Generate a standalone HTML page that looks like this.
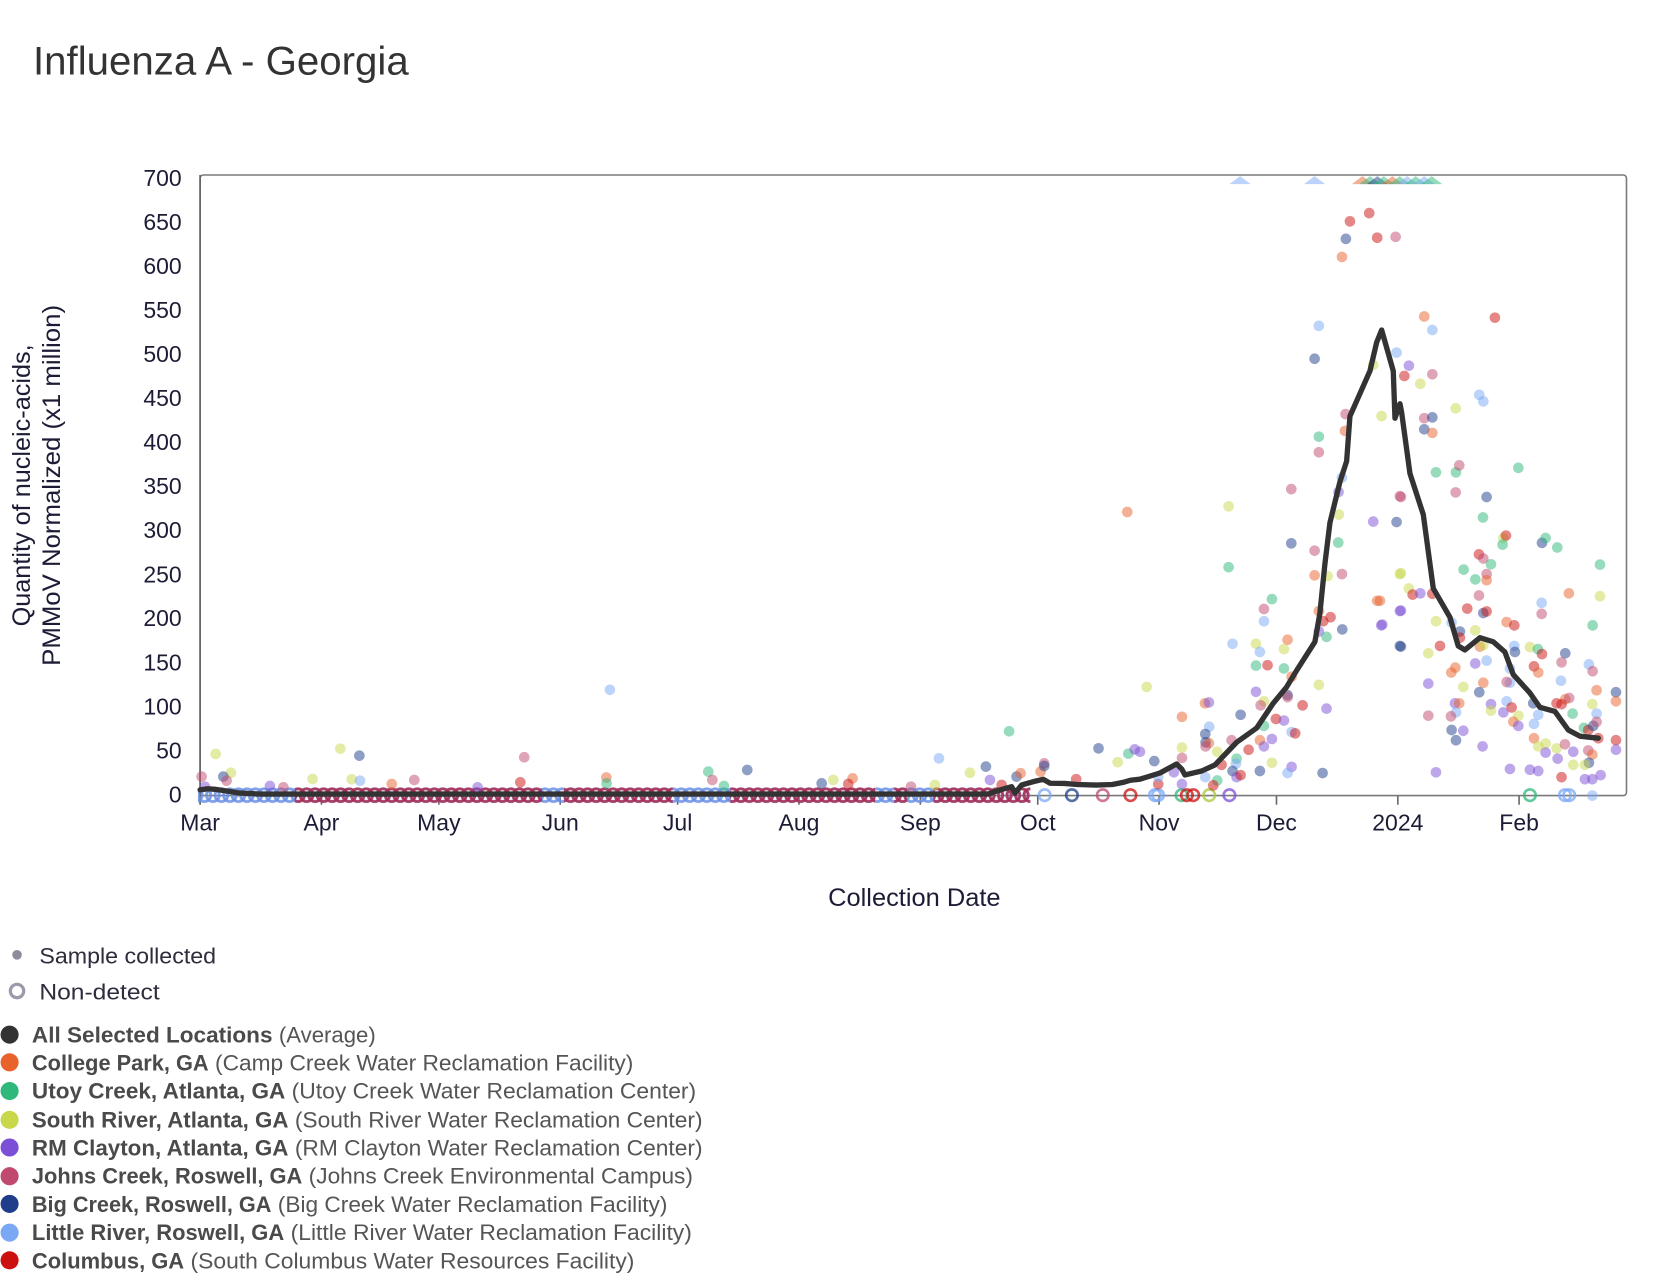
<!DOCTYPE html>
<html><head><meta charset="utf-8"><style>
html,body{margin:0;padding:0;background:#fff;}
svg{display:block;font-family:"Liberation Sans",Arial,sans-serif;}
.o{fill:#e8622c}.g{fill:#2eb87a}.y{fill:#c8d84a}.p{fill:#7b4fd6}.k{fill:#c0496e}.n{fill:#1f3d8a}.b{fill:#7aa8f5}.r{fill:#cc1010}
.pts circle{fill-opacity:.5}
.rg circle{fill:none;stroke-width:2.5;stroke-opacity:.75}
.ro{stroke:#e8622c}.rgn{stroke:#2eb87a}.ry{stroke:#a8c83a}.rp{stroke:#7b4fd6}.rk{stroke:#c0496e}.rn{stroke:#1f3d8a}.rb{stroke:#7aa8f5}.rr{stroke:#cc1010}
.tri polygon{fill-opacity:.5}
.tk{font-size:21.6px;fill:#1c1c36}
.lb{font-size:21px;font-weight:bold;fill:#4a4a4a}
.lr{font-size:21px;fill:#555}
</style></head><body>
<svg width="1668" height="1288" viewBox="0 0 1567 1210" preserveAspectRatio="none" xmlns="http://www.w3.org/2000/svg">
<defs>
<pattern id="pb" patternUnits="userSpaceOnUse" x="188" y="737" width="8" height="20"><g fill="none" stroke="#6a8fe4" stroke-width="2.7" stroke-opacity=".85"><circle cx="-4" cy="10" r="6"/><circle cx="4" cy="10" r="6"/><circle cx="12" cy="10" r="6"/></g></pattern>
<pattern id="pr" patternUnits="userSpaceOnUse" x="188" y="737" width="8" height="20"><g fill="none" stroke="#b02848" stroke-width="2.7" stroke-opacity=".8"><circle cx="-4" cy="10" r="6"/><circle cx="4" cy="10" r="6"/><circle cx="12" cy="10" r="6"/></g></pattern>
</defs>

<text x="31" y="69.8" font-size="37.6" fill="#333" textLength="353" lengthAdjust="spacingAndGlyphs">Influenza A - Georgia</text>

<!-- plot frame -->
<rect x="188" y="164.4" width="1340" height="583" rx="3" fill="none" stroke="#7a7a7a" stroke-width="1.5"/>
<line x1="188" y1="164.4" x2="188" y2="756" stroke="#666" stroke-width="1.6"/>
<g stroke="#666" stroke-width="1.5">
<line x1="302" y1="747.5" x2="302" y2="756"/><line x1="412.3" y1="747.5" x2="412.3" y2="756"/><line x1="526.3" y1="747.5" x2="526.3" y2="756"/><line x1="636.6" y1="747.5" x2="636.6" y2="756"/><line x1="750.6" y1="747.5" x2="750.6" y2="756"/><line x1="864.6" y1="747.5" x2="864.6" y2="756"/><line x1="974.9" y1="747.5" x2="974.9" y2="756"/><line x1="1088.9" y1="747.5" x2="1088.9" y2="756"/><line x1="1199.2" y1="747.5" x2="1199.2" y2="756"/><line x1="1313.2" y1="747.5" x2="1313.2" y2="756"/><line x1="1427.1" y1="747.5" x2="1427.1" y2="756"/>
</g>

<!-- y tick labels -->
<g class="tk" text-anchor="end">
<text x="170.7" y="753.8">0</text><text x="170.7" y="712.4">50</text><text x="170.7" y="671.1">100</text><text x="170.7" y="629.7">150</text><text x="170.7" y="588.3">200</text><text x="170.7" y="547">250</text><text x="170.7" y="505.6">300</text><text x="170.7" y="464.2">350</text><text x="170.7" y="422.9">400</text><text x="170.7" y="381.5">450</text><text x="170.7" y="340.2">500</text><text x="170.7" y="298.8">550</text><text x="170.7" y="257.4">600</text><text x="170.7" y="216.1">650</text><text x="170.7" y="174.7">700</text>
</g>
<!-- x tick labels -->
<g class="tk" text-anchor="middle">
<text x="188" y="780">Mar</text><text x="302" y="780">Apr</text><text x="412.3" y="780">May</text><text x="526.3" y="780">Jun</text><text x="636.6" y="780">Jul</text><text x="750.6" y="780">Aug</text><text x="864.6" y="780">Sep</text><text x="974.9" y="780">Oct</text><text x="1088.9" y="780">Nov</text><text x="1199.2" y="780">Dec</text><text x="1313.2" y="780">2024</text><text x="1427.1" y="780">Feb</text>
</g>

<text transform="translate(28.3,456) rotate(-90)" text-anchor="middle" font-size="23.7" fill="#1c1c36" textLength="265" lengthAdjust="spacingAndGlyphs">Quantity of nucleic-acids,</text>
<text transform="translate(56.5,456) rotate(-90)" text-anchor="middle" font-size="23.7" fill="#1c1c36" textLength="339" lengthAdjust="spacingAndGlyphs">PMMoV Normalized (x1 million)</text>
<text x="859" y="851" text-anchor="middle" font-size="23.5" fill="#1c1c36" textLength="162" lengthAdjust="spacingAndGlyphs">Collection Date</text>

<!-- baseline band of non-detect rings -->
<rect x="186" y="737" width="782" height="20" fill="url(#pb)"/>
<g>
<rect x="277" y="737" width="232" height="20" fill="url(#pr)"/>
<rect x="530" y="737" width="102" height="20" fill="url(#pr)"/>
<rect x="686" y="737" width="136" height="20" fill="url(#pr)"/>
<rect x="840" y="737" width="12" height="20" fill="url(#pr)"/>
<rect x="877" y="737" width="91" height="20" fill="url(#pr)"/>
</g>

<!-- isolated non-detect rings -->
<g class="rg">
<circle class="rb" cx="981.4" cy="747" r="5.4"/><circle class="rn" cx="1007" cy="747" r="5.4"/><circle class="rk" cx="1036" cy="747" r="5.4"/><circle class="rr" cx="1062" cy="747" r="5.4"/><circle class="rb" cx="1085" cy="747" r="5.4"/><circle class="rb" cx="1088" cy="747" r="5.4"/><circle class="rgn" cx="1110" cy="747" r="5.4"/><circle class="rr" cx="1115" cy="747" r="5.4"/><circle class="rr" cx="1121" cy="747" r="5.4"/><circle class="ry" cx="1136" cy="747" r="5.4"/><circle class="rp" cx="1155" cy="747" r="5.4"/><circle class="rgn" cx="1437.3" cy="747" r="5.4"/><circle class="rb" cx="1470.2" cy="747" r="5.4"/><circle class="rb" cx="1474.2" cy="747" r="5.4"/>
</g>

<!-- triangles above range -->
<g class="tri">
<polygon class="b" points="1155,173 1175,173 1165,165.5"/>
<polygon class="b" points="1225,173 1245,173 1235,165.5"/>
<polygon class="o" points="1270,173 1290,173 1280,165.5"/>
<polygon class="g" points="1277,173 1297,173 1287,165.5"/>
<polygon class="n" points="1284,173 1304,173 1294,165.5"/>
<polygon class="g" points="1290,173 1310,173 1300,165.5"/>
<polygon class="o" points="1298,173 1318,173 1308,165.5"/>
<polygon class="g" points="1305,173 1325,173 1315,165.5"/>
<polygon class="b" points="1312,173 1332,173 1322,165.5"/>
<polygon class="g" points="1320,173 1340,173 1330,165.5"/>
<polygon class="b" points="1328,173 1348,173 1338,165.5"/>
<polygon class="g" points="1335,173 1355,173 1345,165.5"/>
</g>

<!-- scatter points -->
<g class="pts">
<circle class="k" cx="189.4" cy="729.6" r="5"/><circle class="p" cx="192.6" cy="739" r="5"/><circle class="y" cx="202.6" cy="708.3" r="5"/><circle class="y" cx="217" cy="725.9" r="5"/><circle class="n" cx="209.8" cy="729.6" r="5"/><circle class="k" cx="212.9" cy="733.4" r="5"/><circle class="p" cx="253.6" cy="738.4" r="5"/><circle class="k" cx="266.2" cy="739.6" r="5"/><circle class="y" cx="293.7" cy="731.8" r="5"/><circle class="y" cx="319.7" cy="703.3" r="5"/><circle class="n" cx="337.6" cy="709.9" r="5"/><circle class="y" cx="330.4" cy="732.1" r="5"/><circle class="b" cx="338.2" cy="733.4" r="5"/><circle class="o" cx="368" cy="736.5" r="5"/><circle class="k" cx="389.2" cy="732.7" r="5"/><circle class="p" cx="448.7" cy="739.6" r="5"/><circle class="k" cx="492.5" cy="711.4" r="5"/><circle class="r" cx="488.8" cy="734.9" r="5"/><circle class="o" cx="569.6" cy="730.4" r="5"/><circle class="g" cx="569.9" cy="735.9" r="5"/><circle class="b" cx="573" cy="648" r="5"/><circle class="g" cx="665.4" cy="724.9" r="5"/><circle class="k" cx="669.2" cy="732.7" r="5"/><circle class="g" cx="680.1" cy="738.4" r="5"/><circle class="n" cx="702" cy="723.3" r="5"/><circle class="n" cx="771.9" cy="735.9" r="5"/><circle class="y" cx="782.8" cy="732.7" r="5"/><circle class="o" cx="801" cy="731.2" r="5"/><circle class="r" cx="796.9" cy="736.5" r="5"/><circle class="k" cx="855.8" cy="739" r="5"/><circle class="b" cx="882.1" cy="712.4" r="5"/><circle class="y" cx="878.3" cy="737.4" r="5"/><circle class="y" cx="911.2" cy="725.9" r="5"/><circle class="n" cx="926.2" cy="720.2" r="5"/><circle class="p" cx="930" cy="732.7" r="5"/><circle class="r" cx="941" cy="737.4" r="5"/><circle class="g" cx="948" cy="687" r="5"/><circle class="n" cx="955" cy="729.6" r="5"/><circle class="o" cx="958.8" cy="726.4" r="5"/><circle class="o" cx="977.6" cy="724.9" r="5"/><circle class="k" cx="981" cy="717.1" r="5"/><circle class="n" cx="981" cy="719.6" r="5"/><circle class="r" cx="1011" cy="732" r="5"/><circle class="n" cx="1032" cy="703" r="5"/><circle class="y" cx="1050" cy="716" r="5"/><circle class="g" cx="1060" cy="708" r="5"/><circle class="p" cx="1066" cy="704" r="5"/><circle class="o" cx="1059" cy="481" r="5"/>
<!-- Nov-Dec -->
<circle class="r" cx="1268.2" cy="207.9" r="5"/><circle class="r" cx="1286.3" cy="200.2" r="5"/><circle class="n" cx="1264.4" cy="224.4" r="5"/><circle class="r" cx="1293.8" cy="223.3" r="5"/><circle class="k" cx="1311.1" cy="222.5" r="5"/><circle class="o" cx="1260.7" cy="241.4" r="5"/><circle class="b" cx="1239" cy="306.1" r="5"/><circle class="n" cx="1235" cy="337" r="5"/><circle class="b" cx="1312" cy="331.2" r="5"/><circle class="y" cx="1290.1" cy="342.8" r="5"/><circle class="y" cx="1297.9" cy="390.9" r="5"/><circle class="k" cx="1264.1" cy="389" r="5"/><circle class="o" cx="1263.5" cy="404.8" r="5"/><circle class="g" cx="1239" cy="410.2" r="5"/><circle class="k" cx="1239" cy="424.9" r="5"/><circle class="k" cx="1213.1" cy="459.5" r="5"/><circle class="b" cx="1260.7" cy="448.7" r="5"/><circle class="p" cx="1257.5" cy="462.2" r="5"/><circle class="k" cx="1315.1" cy="466.1" r="5"/><circle class="y" cx="1257.8" cy="483.4" r="5"/><circle class="p" cx="1290.1" cy="490" r="5"/><circle class="n" cx="1312" cy="490.4" r="5"/><circle class="y" cx="1154.2" cy="475.7" r="5"/><circle class="n" cx="1213.1" cy="510.4" r="5"/><circle class="g" cx="1257.2" cy="509.7" r="5"/><circle class="k" cx="1235" cy="517.3" r="5"/><circle class="k" cx="1260.7" cy="539.3" r="5"/><circle class="o" cx="1235" cy="540.5" r="5"/><circle class="y" cx="1247.2" cy="541.2" r="5"/><circle class="g" cx="1154.2" cy="532.8" r="5"/><circle class="y" cx="1315.1" cy="539.3" r="5"/><circle class="o" cx="1293.8" cy="564.4" r="5"/><circle class="g" cx="1194.9" cy="562.8" r="5"/><circle class="k" cx="1187.4" cy="572.1" r="5"/><circle class="b" cx="1187.4" cy="583.6" r="5"/><circle class="o" cx="1239" cy="574" r="5"/><circle class="r" cx="1250" cy="579.8" r="5"/><circle class="r" cx="1243.1" cy="583.6" r="5"/><circle class="p" cx="1239" cy="593.3" r="5"/><circle class="g" cx="1246.2" cy="598.3" r="5"/><circle class="n" cx="1261" cy="591.3" r="5"/><circle class="p" cx="1297.6" cy="587.5" r="5"/><circle class="p" cx="1315.1" cy="574" r="5"/><circle class="n" cx="1315.1" cy="606.8" r="5"/><circle class="b" cx="1157.9" cy="604.8" r="5"/><circle class="y" cx="1179.9" cy="604.8" r="5"/><circle class="b" cx="1183.6" cy="612.5" r="5"/><circle class="o" cx="1209.6" cy="601" r="5"/><circle class="y" cx="1206.2" cy="609.8" r="5"/><circle class="g" cx="1179.9" cy="625.3" r="5"/><circle class="r" cx="1190.8" cy="624.9" r="5"/><circle class="g" cx="1206.2" cy="628" r="5"/><circle class="o" cx="1213.4" cy="635.7" r="5"/><circle class="y" cx="1239" cy="643.4" r="5"/><circle class="y" cx="1077.2" cy="645.3" r="5"/><circle class="r" cx="1223.7" cy="662.6" r="5"/><circle class="p" cx="1246.2" cy="665.7" r="5"/><circle class="p" cx="1179.9" cy="649.9" r="5"/><circle class="n" cx="1209.6" cy="653" r="5"/><circle class="k" cx="1209.6" cy="654.9" r="5"/><circle class="y" cx="1187.4" cy="658.8" r="5"/><circle class="k" cx="1184.3" cy="662.6" r="5"/><circle class="o" cx="1132" cy="660.7" r="5"/><circle class="p" cx="1135.7" cy="659.9" r="5"/><circle class="o" cx="1110.4" cy="673.4" r="5"/><circle class="n" cx="1165.5" cy="671.5" r="5"/><circle class="r" cx="1198.7" cy="675.4" r="5"/><circle class="p" cx="1206.2" cy="676.9" r="5"/><circle class="g" cx="1187.4" cy="681.9" r="5"/><circle class="b" cx="1136" cy="682.7" r="5"/><circle class="b" cx="1213.4" cy="687.7" r="5"/><circle class="r" cx="1216.8" cy="688.9" r="5"/><circle class="p" cx="1194.9" cy="694.2" r="5"/><circle class="o" cx="1183.6" cy="695.4" r="5"/><circle class="k" cx="1157" cy="695.4" r="5"/><circle class="r" cx="1173" cy="704.3" r="5"/><circle class="p" cx="1187.4" cy="701.2" r="5"/><circle class="n" cx="1132.6" cy="697.3" r="5"/><circle class="o" cx="1135.7" cy="698.1" r="5"/><circle class="k" cx="1132.6" cy="701.2" r="5"/><circle class="y" cx="1110.4" cy="702.3" r="5"/><circle class="k" cx="1110.4" cy="712" r="5"/><circle class="y" cx="1143.5" cy="706.2" r="5"/><circle class="r" cx="1147.6" cy="718.5" r="5"/><circle class="g" cx="1161.7" cy="712.7" r="5"/><circle class="b" cx="1161.1" cy="717.4" r="5"/><circle class="n" cx="1157.9" cy="724.3" r="5"/><circle class="p" cx="1161.7" cy="730.1" r="5"/><circle class="r" cx="1165.5" cy="728.2" r="5"/><circle class="n" cx="1183.6" cy="724.3" r="5"/><circle class="y" cx="1194.9" cy="716.6" r="5"/><circle class="p" cx="1213.4" cy="720.4" r="5"/><circle class="b" cx="1209.6" cy="726.2" r="5"/><circle class="n" cx="1242.5" cy="726.2" r="5"/><circle class="g" cx="1143.5" cy="733.2" r="5"/><circle class="r" cx="1139.8" cy="737.8" r="5"/><circle class="p" cx="1110.4" cy="736.6" r="5"/><circle class="p" cx="1102.8" cy="725.5" r="5"/><circle class="r" cx="1088.1" cy="736.6" r="5"/><circle class="n" cx="1084.4" cy="715" r="5"/><circle class="b" cx="1088.1" cy="730.1" r="5"/><circle class="p" cx="1070.9" cy="706.2" r="5"/><circle class="n" cx="1132.3" cy="689.6" r="5"/><circle class="b" cx="1132.3" cy="730.1" r="5"/>
<!-- Jan-Feb -->
<circle class="o" cx="1338" cy="297.3" r="5"/><circle class="b" cx="1345.6" cy="310" r="5"/><circle class="r" cx="1404.4" cy="298.4" r="5"/><circle class="p" cx="1323.6" cy="343.5" r="5"/><circle class="r" cx="1319.3" cy="353.2" r="5"/><circle class="y" cx="1334.3" cy="360.5" r="5"/><circle class="k" cx="1345.6" cy="351.6" r="5"/><circle class="y" cx="1367.5" cy="383.6" r="5"/><circle class="b" cx="1389.7" cy="370.9" r="5"/><circle class="b" cx="1393.5" cy="377.1" r="5"/><circle class="k" cx="1338" cy="392.9" r="5"/><circle class="n" cx="1345.6" cy="392.1" r="5"/><circle class="n" cx="1338" cy="403.3" r="5"/><circle class="o" cx="1345.6" cy="406.7" r="5"/><circle class="g" cx="1349" cy="443.7" r="5"/><circle class="g" cx="1367.8" cy="443.7" r="5"/><circle class="k" cx="1370.9" cy="437.2" r="5"/><circle class="g" cx="1426.4" cy="439.5" r="5"/><circle class="k" cx="1316.1" cy="466.9" r="5"/><circle class="k" cx="1367.5" cy="462.6" r="5"/><circle class="n" cx="1396.6" cy="466.9" r="5"/><circle class="g" cx="1393.2" cy="486.1" r="5"/><circle class="y" cx="1412.3" cy="505.4" r="5"/><circle class="r" cx="1414.8" cy="503.1" r="5"/><circle class="g" cx="1411.6" cy="511.6" r="5"/><circle class="n" cx="1448.6" cy="510" r="5"/><circle class="g" cx="1452" cy="505.4" r="5"/><circle class="g" cx="1463" cy="514.3" r="5"/><circle class="g" cx="1503.1" cy="530.4" r="5"/><circle class="y" cx="1316.1" cy="538.5" r="5"/><circle class="g" cx="1375" cy="535.1" r="5"/><circle class="r" cx="1389.4" cy="520.8" r="5"/><circle class="k" cx="1393.5" cy="524.7" r="5"/><circle class="g" cx="1400.7" cy="530.1" r="5"/><circle class="g" cx="1386" cy="544.3" r="5"/><circle class="k" cx="1396.6" cy="539.3" r="5"/><circle class="o" cx="1396.6" cy="545.1" r="5"/><circle class="o" cx="1473.9" cy="557.4" r="5"/><circle class="y" cx="1503.1" cy="560.1" r="5"/><circle class="y" cx="1323.6" cy="552.8" r="5"/><circle class="r" cx="1327.1" cy="558.6" r="5"/><circle class="p" cx="1334.3" cy="557.4" r="5"/><circle class="r" cx="1345.6" cy="557.8" r="5"/><circle class="o" cx="1296.4" cy="564.4" r="5"/><circle class="p" cx="1316.1" cy="573.6" r="5"/><circle class="p" cx="1298.6" cy="586.7" r="5"/><circle class="k" cx="1389.4" cy="559.4" r="5"/><circle class="r" cx="1378.4" cy="571.7" r="5"/><circle class="n" cx="1393.5" cy="575.9" r="5"/><circle class="r" cx="1396.6" cy="574.4" r="5"/><circle class="b" cx="1448.3" cy="566.3" r="5"/><circle class="k" cx="1448.3" cy="576.7" r="5"/><circle class="y" cx="1349" cy="583.6" r="5"/><circle class="n" cx="1316.1" cy="607.5" r="5"/><circle class="y" cx="1341.8" cy="613.7" r="5"/><circle class="r" cx="1352.8" cy="606.8" r="5"/><circle class="o" cx="1415.4" cy="584.4" r="5"/><circle class="r" cx="1422.6" cy="587.5" r="5"/><circle class="b" cx="1363.7" cy="584.8" r="5"/><circle class="n" cx="1371.5" cy="593.3" r="5"/><circle class="r" cx="1371.5" cy="599.1" r="5"/><circle class="y" cx="1385.9" cy="592.1" r="5"/><circle class="o" cx="1390.3" cy="607.5" r="5"/><circle class="y" cx="1393.5" cy="606" r="5"/><circle class="b" cx="1422.6" cy="606.8" r="5"/><circle class="n" cx="1423.2" cy="612.5" r="5"/><circle class="g" cx="1496.2" cy="587.5" r="5"/><circle class="y" cx="1437.3" cy="607.9" r="5"/><circle class="g" cx="1444.8" cy="609.8" r="5"/><circle class="r" cx="1448.6" cy="614.5" r="5"/><circle class="r" cx="1441.1" cy="626" r="5"/><circle class="o" cx="1445.1" cy="631.8" r="5"/><circle class="n" cx="1470.5" cy="613.7" r="5"/><circle class="k" cx="1467" cy="622.2" r="5"/><circle class="b" cx="1492.7" cy="624.1" r="5"/><circle class="k" cx="1496.2" cy="630.6" r="5"/><circle class="b" cx="1466.4" cy="639.5" r="5"/><circle class="o" cx="1367.2" cy="627.2" r="5"/><circle class="o" cx="1363.4" cy="631.8" r="5"/><circle class="p" cx="1385.9" cy="623.3" r="5"/><circle class="b" cx="1396.6" cy="620.6" r="5"/><circle class="b" cx="1418.5" cy="628" r="5"/><circle class="b" cx="1418.5" cy="641.4" r="5"/><circle class="k" cx="1415.4" cy="640.7" r="5"/><circle class="p" cx="1341.8" cy="642.2" r="5"/><circle class="y" cx="1374.7" cy="645.3" r="5"/><circle class="o" cx="1393.5" cy="641.4" r="5"/><circle class="n" cx="1389.7" cy="650.3" r="5"/><circle class="o" cx="1499.9" cy="648.4" r="5"/><circle class="n" cx="1518.1" cy="650.3" r="5"/><circle class="o" cx="1518.1" cy="658.8" r="5"/><circle class="o" cx="1470.5" cy="656.9" r="5"/><circle class="k" cx="1474.2" cy="655.7" r="5"/><circle class="y" cx="1495.9" cy="661.5" r="5"/><circle class="r" cx="1462.3" cy="660.7" r="5"/><circle class="r" cx="1467" cy="661.5" r="5"/><circle class="g" cx="1477.4" cy="670.4" r="5"/><circle class="n" cx="1440.4" cy="660.7" r="5"/><circle class="b" cx="1445.1" cy="671.5" r="5"/><circle class="b" cx="1499.9" cy="670.4" r="5"/><circle class="b" cx="1415.4" cy="658.8" r="5"/><circle class="r" cx="1420.1" cy="664.6" r="5"/><circle class="p" cx="1400.7" cy="661.5" r="5"/><circle class="y" cx="1400.7" cy="667.6" r="5"/><circle class="p" cx="1412.3" cy="669.2" r="5"/><circle class="y" cx="1426.4" cy="672.3" r="5"/><circle class="p" cx="1366.9" cy="660.7" r="5"/><circle class="o" cx="1370.9" cy="660.7" r="5"/><circle class="b" cx="1367.8" cy="669.2" r="5"/><circle class="k" cx="1363.1" cy="673" r="5"/><circle class="k" cx="1341.8" cy="672.3" r="5"/><circle class="o" cx="1421.7" cy="678" r="5"/><circle class="p" cx="1426.4" cy="681.9" r="5"/><circle class="b" cx="1441.1" cy="680" r="5"/><circle class="n" cx="1363.7" cy="685.8" r="5"/><circle class="p" cx="1374.7" cy="686.5" r="5"/><circle class="n" cx="1367.8" cy="695.4" r="5"/><circle class="p" cx="1392.8" cy="701.2" r="5"/><circle class="g" cx="1488" cy="683.8" r="5"/><circle class="r" cx="1492.1" cy="685.8" r="5"/><circle class="n" cx="1496.8" cy="681.9" r="5"/><circle class="k" cx="1499.9" cy="678.1" r="5"/><circle class="r" cx="1501.5" cy="693.5" r="5"/><circle class="r" cx="1518.1" cy="695.4" r="5"/><circle class="p" cx="1518.1" cy="704.3" r="5"/><circle class="o" cx="1441.1" cy="693.5" r="5"/><circle class="y" cx="1445.1" cy="701.2" r="5"/><circle class="y" cx="1452" cy="698.5" r="5"/><circle class="p" cx="1452" cy="707" r="5"/><circle class="y" cx="1462.3" cy="703.1" r="5"/><circle class="k" cx="1470.2" cy="699.2" r="5"/><circle class="p" cx="1478" cy="706.2" r="5"/><circle class="p" cx="1463.3" cy="712.7" r="5"/><circle class="k" cx="1492.1" cy="705" r="5"/><circle class="o" cx="1495.9" cy="708.9" r="5"/><circle class="n" cx="1492.7" cy="716.6" r="5"/><circle class="y" cx="1478" cy="718.5" r="5"/><circle class="y" cx="1489" cy="718.5" r="5"/><circle class="p" cx="1349" cy="725.5" r="5"/><circle class="p" cx="1418.5" cy="722.4" r="5"/><circle class="p" cx="1437.3" cy="723.1" r="5"/><circle class="p" cx="1445.1" cy="724.3" r="5"/><circle class="r" cx="1467" cy="730.1" r="5"/><circle class="p" cx="1489" cy="732" r="5"/><circle class="p" cx="1495.9" cy="732" r="5"/><circle class="p" cx="1503.7" cy="728.2" r="5"/><circle class="b" cx="1495.9" cy="747.4" r="5"/>
</g>

<!-- average line -->
<path d="M188,742 L195,741 L202,741.5 L212,743 L225,745 L244,746 L928,746 L939.4,742.1 L950.4,739 L953.5,745.2 L959.8,737.4 L970.7,734.3 L980.1,732.1 L986.4,735.8 L1000,736 L1012,737 L1030,737.5 L1045,737 L1055,735 L1062,733 L1070.9,732 L1089.7,726.2 L1105.4,717.7 L1110.1,722.4 L1113.2,728 L1128.9,724.3 L1141.4,718.6 L1161.8,697.3 L1180.6,683.9 L1196.1,660.7 L1208.7,645.4 L1218.1,629.9 L1235.3,602.9 L1240,575.9 L1244.7,529.6 L1249.4,491.1 L1258.8,452.6 L1265.1,433.3 L1268.2,391 L1287,348.5 L1293.3,321.6 L1298,310 L1308.9,348.5 L1310.5,392.9 L1315.2,379.3 L1316.7,387 L1324.6,444.9 L1337.1,483.4 L1346.5,552.8 L1362.1,579.8 L1369.9,606.8 L1376.2,610.6 L1390.3,599.1 L1402.8,602.9 L1413.8,612.5 L1421.6,633.7 L1437.3,651 L1446.7,664.5 L1460.8,668.4 L1473.3,685.8 L1484.3,691.6 L1501.5,693.5" fill="none" stroke="#333" stroke-width="5" stroke-linejoin="round" stroke-linecap="round"/>

<!-- legend -->
<circle cx="16" cy="897" r="4.5" fill="#8c8c9c"/>
<text x="37" y="905" font-size="20.5" fill="#2d2d3d" textLength="166" lengthAdjust="spacingAndGlyphs">Sample collected</text>
<circle cx="16" cy="931" r="6.3" fill="none" stroke="#9a9aaa" stroke-width="3"/>
<text x="37" y="939" font-size="20.5" fill="#2d2d3d" textLength="113" lengthAdjust="spacingAndGlyphs">Non-detect</text>

<circle cx="9" cy="972" r="8.5" fill="#333"/>
<text class="lb" x="30" y="979.5" textLength="226" lengthAdjust="spacingAndGlyphs">All Selected Locations</text><text class="lr" x="262" y="979.5" textLength="91" lengthAdjust="spacingAndGlyphs">(Average)</text>
<circle cx="9" cy="998" r="8.5" fill="#e8622c"/>
<text class="lb" x="30" y="1005.5" textLength="166" lengthAdjust="spacingAndGlyphs">College Park, GA</text><text class="lr" x="202" y="1005.5" textLength="393" lengthAdjust="spacingAndGlyphs">(Camp Creek Water Reclamation Facility)</text>
<circle cx="9" cy="1025" r="8.5" fill="#2eb87a"/>
<text class="lb" x="30" y="1032" textLength="238" lengthAdjust="spacingAndGlyphs">Utoy Creek, Atlanta, GA</text><text class="lr" x="274" y="1032" textLength="380" lengthAdjust="spacingAndGlyphs">(Utoy Creek Water Reclamation Center)</text>
<circle cx="9" cy="1052" r="8.5" fill="#c8d84a"/>
<text class="lb" x="30" y="1059" textLength="241" lengthAdjust="spacingAndGlyphs">South River, Atlanta, GA</text><text class="lr" x="277" y="1059" textLength="383" lengthAdjust="spacingAndGlyphs">(South River Water Reclamation Center)</text>
<circle cx="9" cy="1078" r="8.5" fill="#7b4fd6"/>
<text class="lb" x="30" y="1085.5" textLength="241" lengthAdjust="spacingAndGlyphs">RM Clayton, Atlanta, GA</text><text class="lr" x="277" y="1085.5" textLength="383" lengthAdjust="spacingAndGlyphs">(RM Clayton Water Reclamation Center)</text>
<circle cx="9" cy="1105" r="8.5" fill="#c0496e"/>
<text class="lb" x="30" y="1112" textLength="254" lengthAdjust="spacingAndGlyphs">Johns Creek, Roswell, GA</text><text class="lr" x="290" y="1112" textLength="361" lengthAdjust="spacingAndGlyphs">(Johns Creek Environmental Campus)</text>
<circle cx="9" cy="1131" r="8.5" fill="#1f3d8a"/>
<text class="lb" x="30" y="1138.5" textLength="225" lengthAdjust="spacingAndGlyphs">Big Creek, Roswell, GA</text><text class="lr" x="261" y="1138.5" textLength="366" lengthAdjust="spacingAndGlyphs">(Big Creek Water Reclamation Facility)</text>
<circle cx="9" cy="1158" r="8.5" fill="#7aa8f5"/>
<text class="lb" x="30" y="1165" textLength="237" lengthAdjust="spacingAndGlyphs">Little River, Roswell, GA</text><text class="lr" x="273" y="1165" textLength="377" lengthAdjust="spacingAndGlyphs">(Little River Water Reclamation Facility)</text>
<circle cx="9" cy="1184" r="8.5" fill="#cc1010"/>
<text class="lb" x="30" y="1191.5" textLength="143" lengthAdjust="spacingAndGlyphs">Columbus, GA</text><text class="lr" x="179" y="1191.5" textLength="417" lengthAdjust="spacingAndGlyphs">(South Columbus Water Resources Facility)</text>
</svg>
</body></html>
